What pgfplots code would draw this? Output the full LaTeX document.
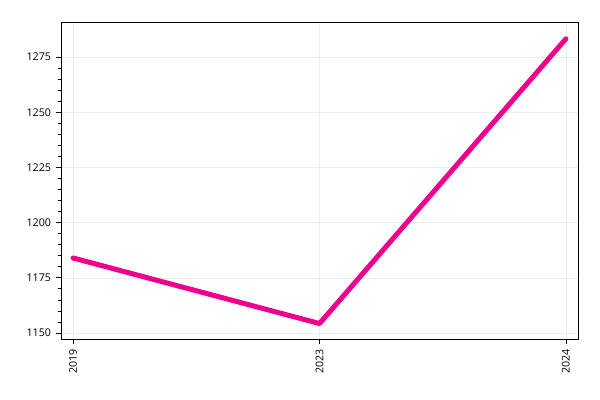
\documentclass[border=0pt]{standalone}
\usepackage{fontspec}
\setmainfont{Open Sans}
\usepackage{pgfplots}
\pgfplotsset{compat=1.18}

\definecolor{linemag}{HTML}{EC008C}

\begin{document}
\begin{tikzpicture}
  \useasboundingbox (0,0) rectangle (450pt,300pt);
  \begin{axis}[
    at={(45.75pt,45.75pt)}, anchor=south west,
    scale only axis,
    width=387.75pt, height=237.75pt,
    xmin=-0.049, xmax=2.049,
    ymin=1147.3, ymax=1290.9,
    xtick={0,1,2},
    xticklabels={2019,2023,2024},
    x tick label style={rotate=90, anchor=east},
    ytick={1150,1175,1200,1225,1250,1275},
    minor y tick num=4,
    tick align=outside,
    tick pos=left,
    major tick length=4pt,
    minor tick length=2.5pt,
    tick style={black, line width=0.6pt},
    grid=major,
    major grid style={line width=0.4pt, draw=gray!15},
    axis line style={black, line width=0.6pt},
    ticklabel style={font=\fontsize{8}{9}\selectfont},
    /pgf/number format/assume math mode=true,
    /pgf/number format/1000 sep={},
  ]
    \addplot[linemag, line width=3.75pt, line join=round, line cap=round] coordinates {
      (0,1184) (1,1154.3) (2,1283.3)
    };
  \end{axis}
\end{tikzpicture}
\end{document}
